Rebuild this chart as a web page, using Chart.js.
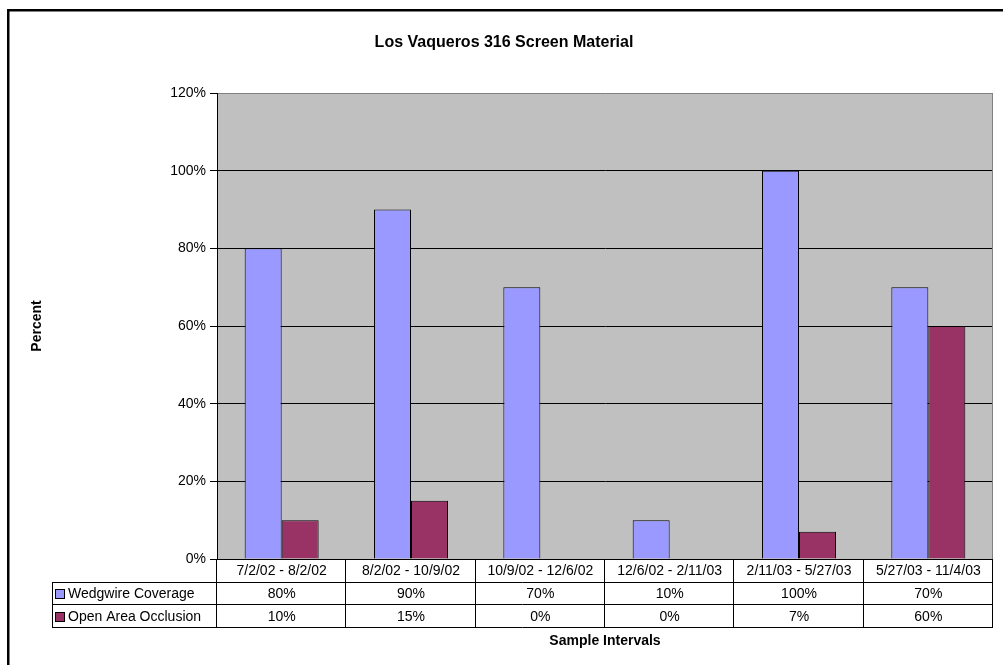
<!DOCTYPE html>
<html><head><meta charset="utf-8">
<script src="https://cdn.jsdelivr.net/npm/chart.js@4/dist/chart.umd.min.js"></script>
<style>html,body{margin:0;padding:0;background:#fff;overflow:hidden}#wrap{width:1003px;height:665px;position:relative}</style>
</head><body><div id="wrap"><canvas id="c" width="1003" height="665"></canvas></div>
<script>
const chartTitle = 'Los Vaqueros 316 Screen Material';
const yAxisTitle = 'Percent';
const xAxisTitle = 'Sample Intervals';
const categories = ['7/2/02 - 8/2/02', '8/2/02 - 10/9/02', '10/9/02 - 12/6/02', '12/6/02 - 2/11/03', '2/11/03 - 5/27/03', '5/27/03 - 11/4/03'];
const seriesNames = ['Wedgwire Coverage', 'Open Area Occlusion'];
const wedgwireCoverage = [80, 90, 70, 10, 100, 70];
const openAreaOcclusion = [10, 15, 0, 0, 7, 60];
const yTicks = [0, 20, 40, 60, 80, 100, 120];

const FONT = "'Liberation Sans', Arial, sans-serif";
const TXT = 14;
const seriesColors = ['#9999FF', '#993366'];
const seriesValues = [wedgwireCoverage, openAreaOcclusion];

const decor = {
  id: 'decor',
  beforeDraw(chart) {
    const ctx = chart.ctx, a = chart.chartArea;
    ctx.save();
    ctx.fillStyle = '#fff';
    ctx.fillRect(0, 0, chart.width, chart.height);
    ctx.fillStyle = '#C0C0C0';
    ctx.fillRect(a.left, a.top, a.right - a.left, a.bottom - a.top);
    ctx.restore();
  },
  afterDraw(chart) {
    const ctx = chart.ctx, a = chart.chartArea, xs = chart.scales.x;
    const n = categories.length;
    const catW = (a.right - a.left) / n;
    const rowH = 22.7;
    const y0 = a.bottom, y1 = y0 + rowH, y2 = y1 + rowH, y3 = y2 + rowH;
    const legendLeft = 52;
    ctx.save();
    // plot right border
    ctx.strokeStyle = '#808080';
    ctx.lineWidth = 1;
    ctx.beginPath();
    ctx.moveTo(Math.round(a.right) - 0.5, a.top);
    ctx.lineTo(Math.round(a.right) - 0.5, a.bottom);
    ctx.stroke();
    // table grid
    ctx.strokeStyle = '#000';
    ctx.lineWidth = 1;
    ctx.beginPath();
    [y1, y2, y3].forEach(y => {
      const yy = Math.round(y) + 0.5;
      ctx.moveTo(legendLeft, yy); ctx.lineTo(a.right, yy);
    });
    ctx.moveTo(legendLeft + 0.5, Math.round(y1)); ctx.lineTo(legendLeft + 0.5, Math.round(y3) + 1);
    for (let i = 0; i <= n; i++) {
      const x = Math.round(a.left + i * catW) - 0.5;
      ctx.moveTo(x, y0); ctx.lineTo(x, Math.round(y3) + 1);
    }
    ctx.stroke();
    // x axis line
    ctx.beginPath();
    ctx.moveTo(a.left, Math.round(y0) + 0.5); ctx.lineTo(a.right, Math.round(y0) + 0.5);
    ctx.stroke();
    // texts
    ctx.fillStyle = '#000';
    ctx.font = TXT + 'px ' + FONT;
    ctx.textAlign = 'center';
    ctx.textBaseline = 'middle';
    for (let i = 0; i < n; i++) {
      const cx = xs.getPixelForValue(i);
      ctx.fillText(categories[i], cx, (y0 + y1) / 2 + 1);
      ctx.fillText(seriesValues[0][i] + '%', cx, (y1 + y2) / 2 + 1);
      ctx.fillText(seriesValues[1][i] + '%', cx, (y2 + y3) / 2 + 1);
    }
    // legend keys
    ctx.textAlign = 'left';
    [[y1, y2], [y2, y3]].forEach((r, k) => {
      const cy = (r[0] + r[1]) / 2;
      ctx.fillStyle = seriesColors[k];
      ctx.fillRect(55.5, Math.round(cy - 4) + 0.5, 9, 9);
      ctx.strokeStyle = '#000';
      ctx.strokeRect(55.5, Math.round(cy - 4) + 0.5, 9, 9);
      ctx.fillStyle = '#000';
      ctx.fillText(seriesNames[k], 68, cy + 1);
    });
    // titles
    ctx.textAlign = 'center';
    ctx.font = 'bold 16px ' + FONT;
    ctx.fillText(chartTitle, 504, 43);
    ctx.font = 'bold ' + TXT + 'px ' + FONT;
    ctx.fillText(xAxisTitle, (a.left + a.right) / 2, 641);
    ctx.save();
    ctx.translate(37, (a.top + a.bottom) / 2);
    ctx.rotate(-Math.PI / 2);
    ctx.fillText(yAxisTitle, 0, 0);
    ctx.restore();
    // outer frame
    ctx.strokeStyle = '#000';
    ctx.lineWidth = 2.5;
    ctx.strokeRect(8.25, 10.25, 1100, 800);
    ctx.restore();
  }
};

new Chart(document.getElementById('c'), {
  type: 'bar',
  data: {
    labels: categories,
    datasets: seriesNames.map((name, k) => ({
      label: name,
      data: seriesValues[k],
      backgroundColor: seriesColors[k],
      borderColor: '#000',
      borderWidth: 1,
      borderSkipped: 'start',
      barPercentage: 1.0,
      categoryPercentage: 0.572
    }))
  },
  options: {
    responsive: false,
    animation: false,
    devicePixelRatio: 1,
    layout: { padding: { left: 0, top: 93, right: 10, bottom: 106 } },
    plugins: { legend: { display: false }, title: { display: false }, tooltip: { enabled: false } },
    scales: {
      x: { type: 'category', display: false, offset: true },
      y: {
        min: 0, max: 120,
        afterBuildTicks: s => { s.ticks = yTicks.map(v => ({ value: v })); },
        afterFit: s => { s.width = 217; },
        ticks: { callback: v => v + '%', color: '#000', font: { family: FONT, size: TXT }, padding: 4 },
        grid: {
          color: c => (c.tick && c.tick.value === 120) ? '#808080' : '#000',
          tickColor: '#000', tickLength: 7, lineWidth: 1
        },
        border: { color: '#000', width: 1 }
      }
    }
  },
  plugins: [decor]
});
</script></body></html>
